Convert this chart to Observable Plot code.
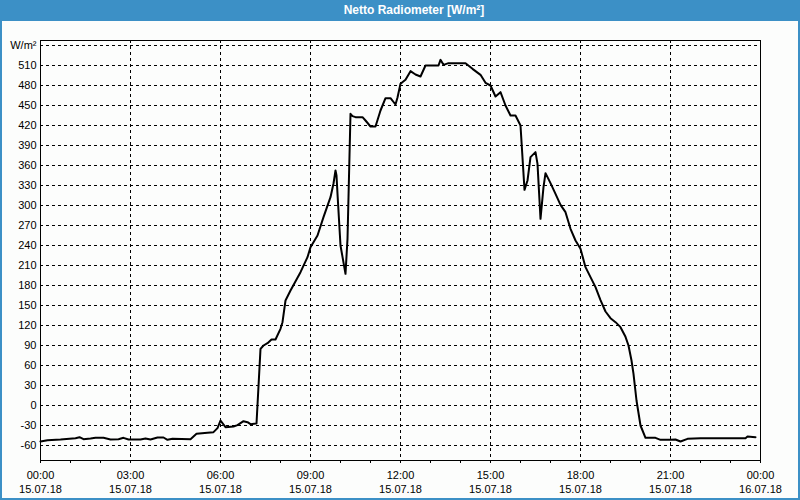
<!DOCTYPE html>
<html>
<head>
<meta charset="utf-8">
<script src="https://cdn.jsdelivr.net/npm/d3@7"></script>
<script src="https://cdn.jsdelivr.net/npm/@observablehq/plot@0.6"></script>
<style>
  html, body { margin: 0; padding: 0; background: #fcfdfc; }
  #wrap { position: relative; width: 800px; height: 500px; background: #fcfdfc; overflow: hidden; }
  #title { position: absolute; left: 0; top: 0; width: 800px; height: 21px; background: #3c90c6;
           color: #fff; font: bold 12px "Liberation Sans", Arial, sans-serif; line-height: 21px;
           text-align: center; padding-left: 28px; box-sizing: border-box; }
  #chart { position: absolute; left: 0; top: 21px; }
  #border { position: absolute; left: 0; top: 0; width: 800px; height: 500px; box-sizing: border-box;
            border: 2px solid #3c90c6; pointer-events: none; }
</style>
</head>
<body>
<div id="wrap">
  <div id="title">Netto Radiometer [W/m²]</div>
  <div id="chart"></div>
  <div id="border"></div>
</div>
<script>
const titleText = "Netto Radiometer [W/m²]";
const unitLabel = "W/m²";
const day = "2018-07-15";

const times = ["00:00","00:14","00:40","01:10","01:18","01:26","01:40","01:50","02:06","02:20",
  "02:36","02:46","02:56","03:20","03:30","03:40","03:54","04:06","04:14","04:24",
  "05:00","05:12","05:34","05:46","05:54","06:00","06:10","06:26","06:34","06:46",
  "06:54","07:00","07:12","07:20","07:26","07:34","07:42","07:50","08:00","08:04",
  "08:10","08:20","08:40","08:54","09:00","09:14","09:26","09:40","09:46","09:50",
  "09:52","09:54","10:00","10:10","10:14","10:20","10:24","10:30","10:44","10:50",
  "11:00","11:10","11:20","11:30","11:40","11:50","11:54","12:00","12:10","12:20",
  "12:30","12:40","12:50","13:10","13:16","13:20","13:26","13:36","14:10","14:24",
  "14:40","14:50","15:00","15:10","15:20","15:30","15:40","15:50","16:00","16:08",
  "16:14","16:20","16:30","16:34","16:40","16:46","16:50","17:00","17:10","17:20",
  "17:30","17:40","17:50","18:00","18:10","18:20","18:30","18:40","18:50","19:00",
  "19:10","19:20","19:30","19:36","19:42","19:46","19:52","20:00","20:10","20:30",
  "20:40","21:00","21:10","21:20","21:34","22:00","23:30","23:34","23:50"];

const values = [-54,-52,-51,-49,-47.5,-50.5,-49.5,-48.5,-48.5,-51,
  -50.5,-48.5,-51,-51,-49.5,-51,-48,-48,-51.5,-50,
  -50.5,-42.5,-41,-40,-34,-22.5,-32.5,-31.5,-29.5,-23.5,
  -25,-28,-27,85,90,93.5,99,99,115,125,
  157.5,172.5,200,222.5,237.5,255,282.5,312.5,333,352.5,
  345,317.5,240,197.5,250,437.5,434,432.5,432.5,427.5,
  418.5,418.5,442.5,461,461,451.5,462,482.5,488.5,501.5,
  496.5,493.5,510,510,510,518.5,511,513.5,513.5,505,
  496,484,480,463.5,470,450,435,435,420,323.5,
  337.5,372.5,380,362.5,280,327.5,348.5,333.5,317.5,301,
  290,265,247.5,235,207.5,192.5,177.5,158,141,131,
  125,117.5,103,90,67.5,47.5,7.5,-30,-48.5,-48.5,
  -51.5,-51.5,-51,-54,-50,-49,-49,-46.5,-47.5];

const yTicks = d3.range(-60, 541, 30);
const xStart = new Date(Date.UTC(2018, 6, 15, 0, 0));
const xEnd = new Date(Date.UTC(2018, 6, 16, 0, 0));
const majorTicks = d3.utcHour.every(3).range(xStart, new Date(+xEnd + 1));
const minorTicks = d3.utcMinute.every(90).range(xStart, new Date(+xEnd + 1));

const parse = d3.utcParse("%Y-%m-%d %H:%M");
const data = times.map((t, i) => ({ time: parse(day + " " + t), value: values[i] }));

const fmtTime = d3.utcFormat("%H:%M");
const fmtDate = d3.utcFormat("%d.%m.%y");

const chart = Plot.plot({
  width: 800,
  height: 479,
  marginLeft: 40,
  marginRight: 40,
  marginTop: 19,
  marginBottom: 40,
  style: { fontFamily: "'Liberation Sans', Arial, sans-serif", fontSize: "11px", background: "transparent", color: "black" },
  x: { type: "utc", domain: [xStart, xEnd] },
  y: { domain: [-82.5, 547.5] },
  marks: [
    Plot.gridY(yTicks, { stroke: "black", strokeOpacity: 1, strokeDasharray: "3,3" }),
    Plot.gridX(majorTicks, { stroke: "black", strokeOpacity: 1, strokeDasharray: "3,3" }),
    Plot.axisY(yTicks, { tickSize: 0, tickPadding: 4, tickFormat: d => d === 540 ? unitLabel : String(d), label: null, fill: "black" }),
    Plot.axisX(minorTicks, { tickSize: 3, tickFormat: () => "", label: null }),
    Plot.axisX(majorTicks, { tickSize: 0, tickPadding: 11, tickFormat: fmtTime, label: null, fill: "black" }),
    Plot.axisX(majorTicks, { tickSize: 0, tickPadding: 25, tickFormat: d => fmtDate(d), label: null, fill: "black" }),
    Plot.frame({ stroke: "black", strokeOpacity: 1 }),
    Plot.line(data, { x: "time", y: "value", stroke: "black", strokeWidth: 2 })
  ]
});
document.getElementById("chart").appendChild(chart);
</script>
</body>
</html>
